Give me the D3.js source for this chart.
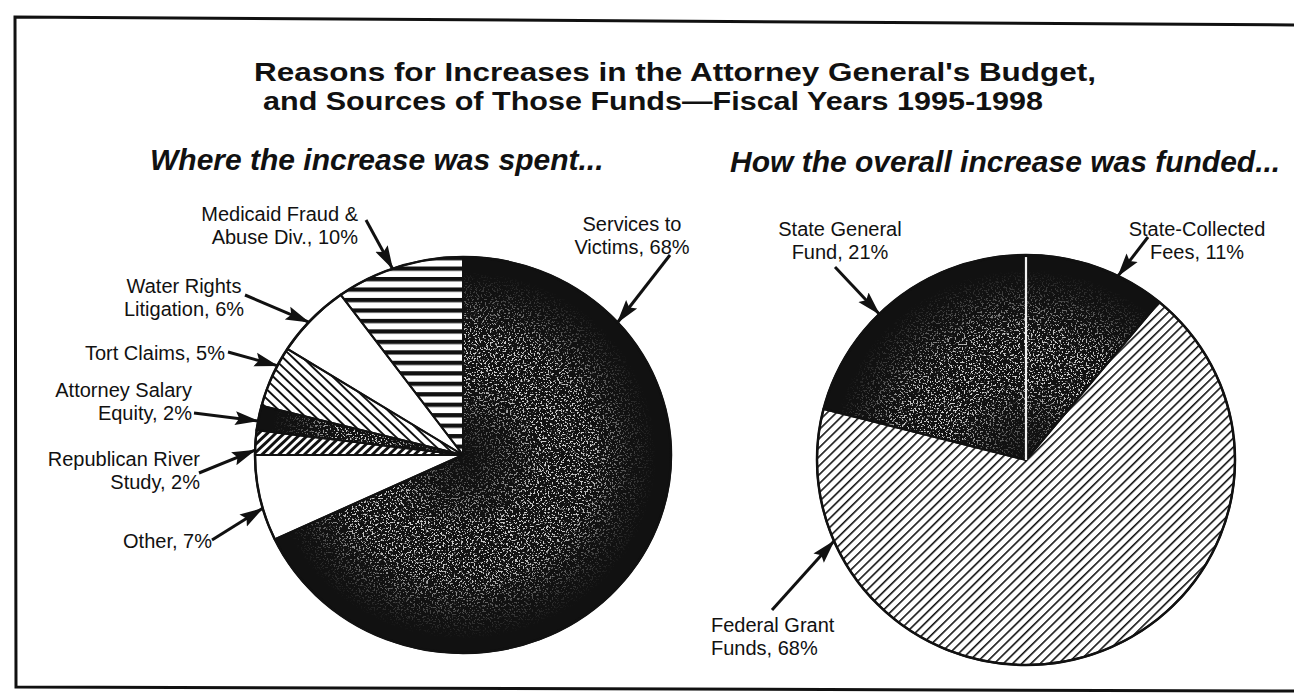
<!DOCTYPE html>
<html>
<head>
<meta charset="utf-8">
<script src="https://cdn.jsdelivr.net/npm/d3@7"></script>
<style>
  body { margin: 0; background: #fff; }
  svg text { font-family: "Liberation Sans", Arial, Helvetica, sans-serif; fill: #111; }
</style>
</head>
<body>
<svg id="chart" width="1294" height="700"></svg>
<script>
// data
var spentNames = ["Services to Victims", "Other", "Republican River Study", "Attorney Salary Equity",
                  "Tort Claims", "Water Rights Litigation", "Medicaid Fraud & Abuse Div."];
var spentValues = [68, 7, 2, 2, 5, 6, 10];
var spentLines = [["Services to", "Victims,"], ["Other,"], ["Republican River", "Study,"],
                  ["Attorney Salary", "Equity,"], ["Tort Claims,"], ["Water Rights", "Litigation,"],
                  ["Medicaid Fraud &", "Abuse Div.,"]];

var fundNames = ["State-Collected Fees", "Federal Grant Funds", "State General Fund"];
var fundValues = [11, 68, 21];
var fundLines = [["State-Collected", "Fees,"], ["Federal Grant", "Funds,"], ["State General", "Fund,"]];

var titleLines = ["Reasons for Increases in the Attorney General's Budget,",
                  "and Sources of Those Funds\u2014Fiscal Years 1995-1998"];

var svg = d3.select("#chart");
var defs = svg.append("defs");

// fills --------------------------------------------------------------
function hatch(id, angle, period, thick) {
    var p = defs.append("pattern")
        .attr("id", id)
        .attr("patternUnits", "userSpaceOnUse")
        .attr("width", period).attr("height", period)
        .attr("patternTransform", "rotate(" + angle + ")");
    p.append("rect").attr("width", period).attr("height", period).attr("fill", "#fff");
    p.append("rect").attr("x", 0).attr("y", 0).attr("width", thick).attr("height", period).attr("fill", "#111");
}
hatch("hStripes", 90, 11, 4.5);     // medicaid: horizontal bars
hatch("backHatch", -45, 7, 2);      // tort claims "\"
hatch("fwdThick", 45, 6, 3);        // republican river "/"
hatch("fwdThin", 45, 6.5, 1.6);     // federal grant "/"

// speckle noise for the dark shaded wedges
var f = defs.append("filter").attr("id", "speckle")
    .attr("x", "-10%").attr("y", "-10%").attr("width", "120%").attr("height", "120%");
f.append("feTurbulence").attr("type", "fractalNoise").attr("baseFrequency", 0.55)
    .attr("numOctaves", 2).attr("seed", 7).attr("result", "noise");
f.append("feColorMatrix").attr("in", "noise").attr("type", "matrix")
    .attr("values", "0 0 0 0 0.8  0 0 0 0 0.8  0 0 0 0 0.8  13 0 0 0 -7.3").attr("result", "dots");
f.append("feComposite").attr("in", "dots").attr("in2", "SourceAlpha").attr("operator", "in");

var g = defs.append("radialGradient").attr("id", "fade");
[[0, 0.05], [0.2, 0.45], [0.4, 0.9], [0.62, 0.85], [0.8, 0.25], [0.93, 0]].forEach(function (s) {
    g.append("stop").attr("offset", s[0]).attr("stop-color", "#fff").attr("stop-opacity", s[1]);
});

// arrow head
defs.append("marker").attr("id", "head")
    .attr("markerUnits", "userSpaceOnUse")
    .attr("markerWidth", 24).attr("markerHeight", 16)
    .attr("refX", 23).attr("refY", 8).attr("orient", "auto")
    .append("path").attr("d", "M0,1 L24,8 L0,15 L4,8 Z").attr("fill", "#111");

// frame + titles ------------------------------------------------------
svg.append("path")
    .attr("d", "M1294,25 L15,17 L16,687 L1294,691")
    .attr("fill", "none").attr("stroke", "#111").attr("stroke-width", 3);

svg.selectAll(".title").data(titleLines).enter().append("text")
    .attr("class", "title")
    .attr("x", function (d, i) { return i === 0 ? 254 : 263; })
    .attr("y", function (d, i) { return 81 + i * 29; })
    .attr("textLength", function (d, i) { return i === 0 ? 842 : 780; })
    .attr("lengthAdjust", "spacingAndGlyphs")
    .style("font-size", "25.5px").style("font-weight", "bold")
    .text(function (d) { return d; });

svg.append("text").attr("x", 150).attr("y", 170)
    .style("font-size", "30px").style("font-weight", "bold").style("font-style", "italic")
    .text("Where the increase was spent...");
svg.append("text").attr("x", 730).attr("y", 172)
    .style("font-size", "30px").style("font-weight", "bold").style("font-style", "italic")
    .text("How the overall increase was funded...");

// pies ---------------------------------------------------------------
var pie = d3.pie().sort(null).startAngle(0).endAngle(2 * Math.PI);

function drawPie(opt) {
    var arcs = pie(opt.values);
    var arc = d3.arc().innerRadius(0).outerRadius(opt.rx);
    var squash = "translate(" + opt.cx + "," + opt.cy + ") scale(1," + (opt.ry / opt.rx) + ")";

    var grp = svg.append("g").attr("transform", squash);
    grp.selectAll("path.slice").data(arcs).enter().append("path")
        .attr("class", "slice")
        .attr("d", arc)
        .attr("fill", function (d, i) { return opt.fills[i]; });

    // speckles on the dark wedges, faded toward rim and apex
    var maskId = "m" + opt.id;
    defs.append("mask").attr("id", maskId)
        .append("ellipse").attr("cx", opt.cx).attr("cy", opt.cy)
        .attr("rx", opt.rx).attr("ry", opt.ry)
        .attr("fill", "url(#fade)");
    var dark = arcs.filter(function (d, i) { return opt.speckle[i]; });
    svg.append("g").attr("mask", "url(#" + maskId + ")")
        .append("g").attr("transform", squash)
        .append("g").attr("filter", "url(#speckle)")
        .selectAll("path").data(dark).enter().append("path")
        .attr("d", arc).attr("fill", "#000");

    // outlines on top
    var top = svg.append("g").attr("transform", squash);
    top.selectAll("path").data(arcs).enter().append("path")
        .attr("d", arc)
        .attr("fill", "none")
        .attr("stroke", "#111")
        .attr("stroke-width", 2)
        .attr("vector-effect", "non-scaling-stroke");
    // light seam between two neighbouring shaded wedges
    arcs.forEach(function (d, i) {
        var j = (i + 1) % arcs.length;
        if (opt.speckle[i] && opt.speckle[j] && opt.seam) {
            var a = d.endAngle;
            top.append("line")
                .attr("x1", 0).attr("y1", 0)
                .attr("x2", opt.rx * Math.sin(a) * 0.99).attr("y2", -opt.rx * Math.cos(a) * 0.99)
                .attr("stroke", "#f2f2f2").attr("stroke-width", 2.2)
                .attr("vector-effect", "non-scaling-stroke");
        }
    });
    top.append("ellipse").attr("rx", opt.rx).attr("ry", opt.rx)
        .attr("fill", "none").attr("stroke", "#111").attr("stroke-width", 2.5)
        .attr("vector-effect", "non-scaling-stroke");

    // labels with arrows pointing at the rim
    arcs.forEach(function (d, i) {
        var L = opt.labels[i];
        var a = d.startAngle + L.at * (d.endAngle - d.startAngle);
        var tip = [opt.cx + opt.rx * Math.sin(a), opt.cy - opt.ry * Math.cos(a)];
        svg.append("line")
            .attr("x1", L.tail[0]).attr("y1", L.tail[1])
            .attr("x2", tip[0]).attr("y2", tip[1])
            .attr("stroke", "#111").attr("stroke-width", 3)
            .attr("marker-end", "url(#head)");

        var lines = opt.lines[i].slice();
        lines[lines.length - 1] += " " + opt.values[i] + "%";
        svg.append("g").selectAll("text").data(lines).enter().append("text")
            .attr("x", L.x)
            .attr("y", function (t, k) { return L.y + k * 23; })
            .attr("text-anchor", L.anchor)
            .style("font-size", "20px")
            .text(function (t) { return t; });
    });
}

drawPie({
    id: "spent", cx: 463, cy: 455, rx: 208, ry: 198,
    values: spentValues, lines: spentLines,
    fills: ["#111", "#fff", "url(#fwdThick)", "#111", "url(#backHatch)", "#fff", "url(#hStripes)"],
    speckle: [true, false, false, true, false, false, false],
    seam: false,
    labels: [
        {at: 0.196, tail: [670, 255], x: 632, y: 231, anchor: "middle"},
        {at: 0.38, tail: [212, 540], x: 212, y: 548, anchor: "end"},
        {at: 0.2, tail: [199, 473], x: 200, y: 466, anchor: "end"},
        {at: 0.375, tail: [194, 413], x: 192, y: 397, anchor: "end"},
        {at: 0.69, tail: [228, 352], x: 225, y: 360, anchor: "end"},
        {at: 0.45, tail: [245, 295], x: 184, y: 293, anchor: "middle"},
        {at: 0.45, tail: [366, 220], x: 358, y: 221, anchor: "end"}
    ]
});

drawPie({
    id: "fund", cx: 1026, cy: 460, rx: 209, ry: 205,
    values: fundValues, lines: fundLines,
    fills: ["#111", "url(#fwdThin)", "#111"],
    speckle: [true, false, true],
    seam: true,
    labels: [
        {at: 0.66, tail: [1148, 237], x: 1197, y: 236, anchor: "middle"},
        {at: 0.846, tail: [772, 610], x: 711, y: 632, anchor: "start"},
        {at: 0.41, tail: [835, 267], x: 840, y: 236, anchor: "middle"}
    ]
});
</script>
</body>
</html>
